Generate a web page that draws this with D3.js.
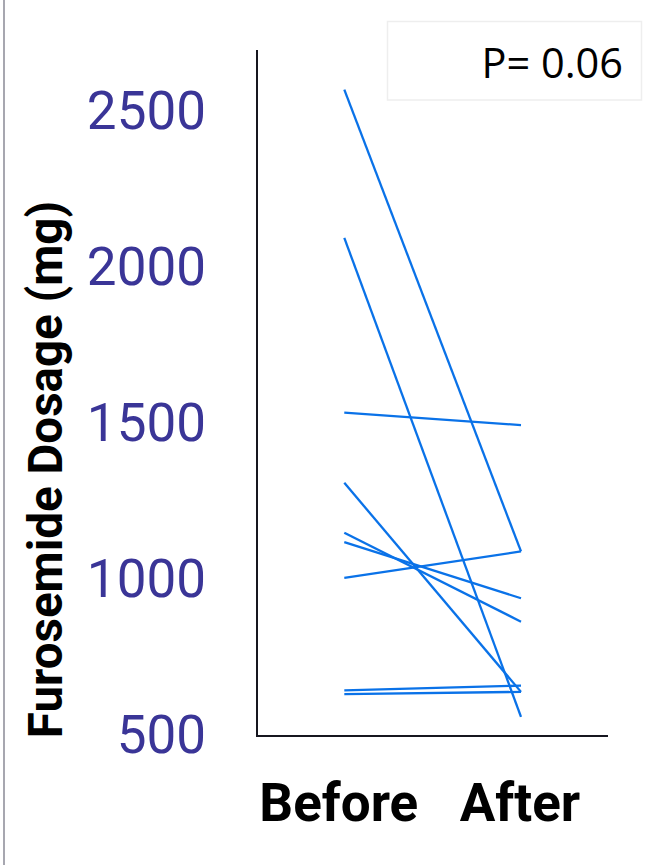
<!DOCTYPE html>
<html>
<head>
<meta charset="utf-8">
<script src="https://cdn.jsdelivr.net/npm/d3@7"></script>
<style>
  html, body { margin: 0; padding: 0; background: #fff; }
  svg { display: block; }
</style>
</head>
<body>
<svg id="chart" width="647" height="865"></svg>
<script>
const categories = ["Before", "After"];
const beforeValues = [2565, 2090, 1530, 1305, 1145, 1115, 1000, 640, 628];
const afterValues  = [1085, 555, 1490, 635, 860, 935, 1085, 655, 635];
const yTicks = [500, 1000, 1500, 2000, 2500];
const yLabel = "Furosemide Dosage (mg)";
const pText = "P= 0.06";

const svg = d3.select("#chart");

// left frame line
svg.append("line").attr("x1", 4).attr("x2", 4).attr("y1", 0).attr("y2", 865)
  .attr("stroke", "#8a8a96").attr("stroke-width", 1.5);

const x = d3.scalePoint().domain(categories).range([344.3, 521]);
const y = d3.scaleLinear().domain([493.6, 2692]).range([736, 50]);

// axes lines
svg.append("line").attr("x1", 257).attr("x2", 257).attr("y1", y(2692)).attr("y2", y(493.6) + 1)
  .attr("stroke", "#16161f").attr("stroke-width", 2);
svg.append("line").attr("x1", 256).attr("x2", 608).attr("y1", y(493.6)).attr("y2", y(493.6))
  .attr("stroke", "#16161f").attr("stroke-width", 2);

// y tick labels
svg.append("g").selectAll("text").data(yTicks).join("text")
  .attr("x", 206).attr("y", d => y(d))
  .attr("dy", "0.355em")
  .attr("text-anchor", "end")
  .attr("font-family", "Roboto")
  .attr("font-size", 53)
  .attr("fill", "#3a3597")
  .text(d => d);

// y title
svg.append("text")
  .attr("transform", `translate(62, ${469.5}) rotate(-90)`)
  .attr("text-anchor", "middle")
  .attr("font-family", "Roboto")
  .attr("font-weight", "bold")
  .attr("font-size", 47.5)
  .attr("fill", "#000")
  .text(yLabel);

// x labels
svg.append("g").selectAll("text").data(categories).join("text")
  .attr("x", d => x(d)).attr("dx", (d, i) => i === 0 ? -5.5 : -1)
  .attr("y", 821)
  .attr("text-anchor", "middle")
  .attr("font-family", "Roboto")
  .attr("font-weight", "bold")
  .attr("font-size", 53)
  .attr("fill", "#000")
  .text(d => d);

// paired lines
const pairs = beforeValues.map((b, i) => [[categories[0], b], [categories[1], afterValues[i]]]);
const line = d3.line().x(d => x(d[0])).y(d => y(d[1]));
svg.append("g").selectAll("path").data(pairs).join("path")
  .attr("d", line)
  .attr("fill", "none")
  .attr("stroke", "#0a72e8")
  .attr("stroke-width", 2.3);

// P box
svg.append("rect").attr("x", 387.5).attr("y", 21.5).attr("width", 254).attr("height", 78.5)
  .attr("fill", "#fff").attr("stroke", "#eeeeee").attr("stroke-width", 1.5);
svg.append("text")
  .attr("x", 623).attr("y", 78)
  .attr("text-anchor", "end")
  .attr("font-family", "Open Sans")
  .attr("font-size", 41.5)
  .attr("fill", "#000")
  .text(pText);
</script>
</body>
</html>
